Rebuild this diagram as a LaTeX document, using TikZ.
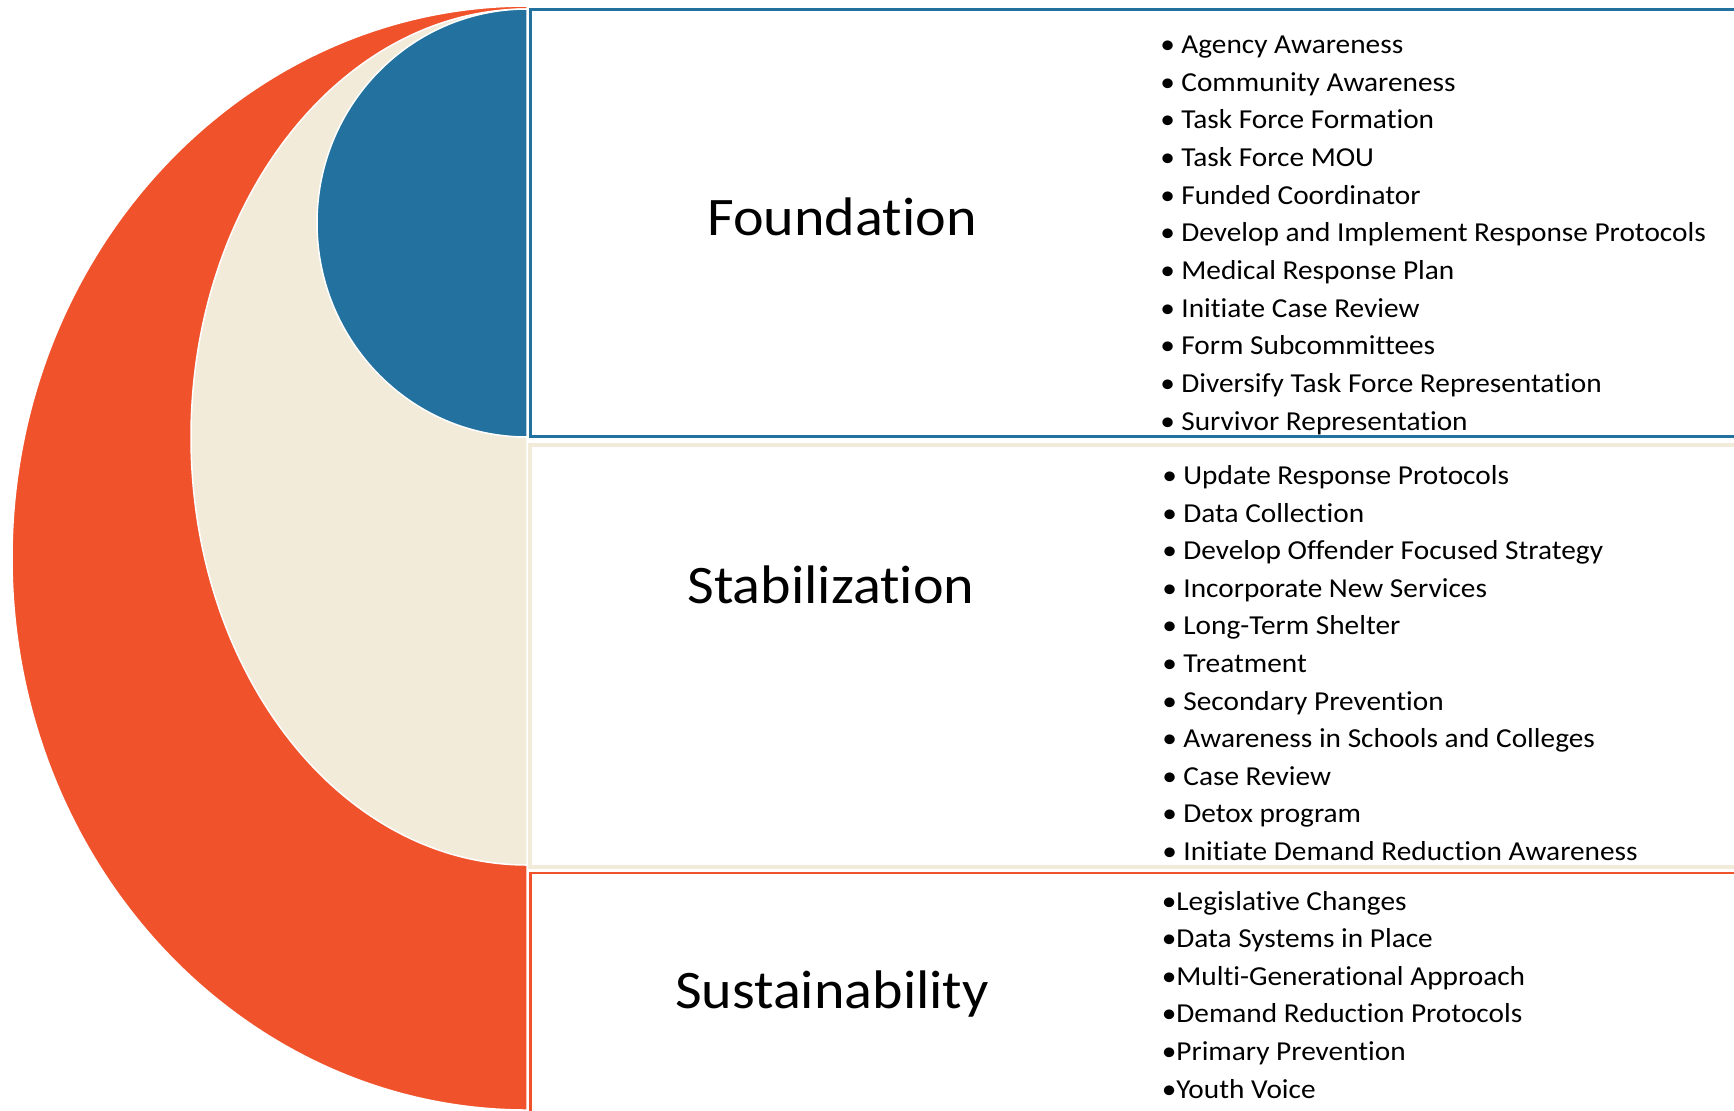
\documentclass[tikz,border=0pt]{standalone}
\usepackage{fontspec}
\setmainfont{Carlito}[Ligatures={NoCommon,NoRare,NoContextual}]
\usepackage{graphicx}
\definecolor{orng}{RGB}{240,83,43}
\definecolor{bge}{RGB}{243,235,218}
\definecolor{blu}{RGB}{34,113,158}
\tikzset{
  half/.style={draw=white, line width=0.75pt},
  head/.style={anchor=base, inner sep=0pt, font=\fontsize{27.15}{32}\selectfont},
  item/.style={anchor=base west, inner sep=0pt, font=\fontsize{13.7}{16}\selectfont},
}
\newcommand{\hx}[1]{\scalebox{1.07}[1]{#1}}
\newcommand{\bul}[2]{\scalebox{1.07}[1]{\makebox[#1][l]{\textbullet}#2}}
\begin{document}
\begin{tikzpicture}[x=0.5pt,y=-0.5pt]
\useasboundingbox (0,0) rectangle (1734,1110);
\clip (0,0) rectangle (1734,1110);
\fill[white] (0,0) rectangle (1734,1110);
% half shapes
\filldraw[half, fill=orng] (527,1110) arc[start angle=90,end angle=270,x radius=515,y radius=552] -- cycle;
\filldraw[half, fill=bge] (527,865) arc[start angle=90,end angle=270,x radius=336,y radius=428] -- cycle;
\filldraw[half, fill=blu] (527,437) arc[start angle=90,end angle=270,x radius=210,y radius=214] -- cycle;
% boxes
\draw[blu, line width=1.75pt] (530.5,9.5) rectangle (1745,436.7);
\draw[bge, line width=2pt] (530,444.7) rectangle (1745,866.6);
\draw[orng, line width=1.4pt] (530.7,873) rectangle (1745,1125);
% headings
\node[head] (fnd) at (842,235) {\hx{Foundation}};
\node[head] (stb) at (831,603) {\hx{Stabilization}};
\node[head] (sus) at (832,1008) {\hx{Sustainability}};
% lists
\foreach \t [count=\i from 0] in {Agency Awareness, Community Awareness, Task Force Formation, Task Force MOU, Funded Coordinator, Develop and Implement Response Protocols, Medical Response Plan, Initiate Case Review, Form Subcommittees, Diversify Task Force Representation, Survivor Representation}
  \node[item] (f\i) at ({1160},{53.3+37.7*\i}) {\bul{9.8pt}{\t}};
\foreach \t [count=\i from 0] in {Update Response Protocols, Data Collection, Develop Offender Focused Strategy, Incorporate New Services, Long-Term Shelter, Treatment, Secondary Prevention, Awareness in Schools and Colleges, Case Review, Detox program, Initiate Demand Reduction Awareness}
  \node[item] (s\i) at ({1162},{484.5+37.6*\i}) {\bul{9.8pt}{\t}};
\foreach \t [count=\i from 0] in {Legislative Changes, Data Systems in Place, Multi-Generational Approach, Demand Reduction Protocols, Primary Prevention, Youth Voice}
  \node[item] (u\i) at ({1161.4},{910+37.6*\i}) {\bul{6.8pt}{\t}};
\end{tikzpicture}
\end{document}
